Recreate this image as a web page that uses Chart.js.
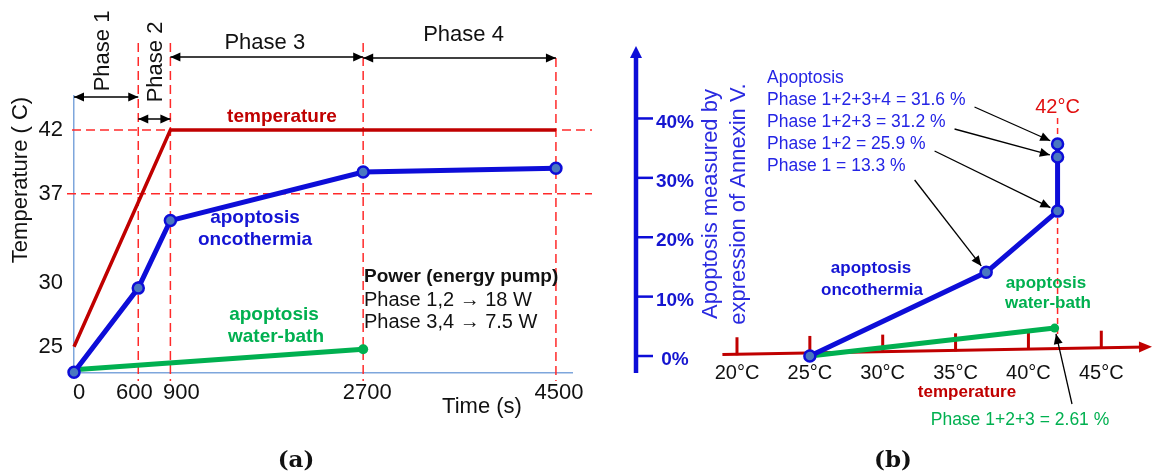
<!DOCTYPE html>
<html>
<head>
<meta charset="utf-8">
<script src="https://cdn.jsdelivr.net/npm/chart.js@4.4.1/dist/chart.umd.min.js"></script>
<style>
  html, body { margin: 0; padding: 0; background: #fff; }
  #wrap { position: relative; width: 1160px; height: 475px; overflow: hidden; }
  canvas { position: absolute; top: 0; }
  #chartA { left: 0; }
  #chartB { left: 600px; }
</style>
</head>
<body>
<div id="wrap">
  <canvas id="chartA" width="600" height="475"></canvas>
  <canvas id="chartB" width="560" height="475"></canvas>
</div>
<script>
// ---- (a) temperatura / apoptose x tempo ----
const timeTicks = [0, 600, 900, 2700, 4500];
const tempTicks = [25, 30, 37, 42];
const tempTime = [0, 900, 4500];
const tempValues = [25, 42, 42];
const oncoTime = [0, 600, 900, 2700, 4500];
const oncoValues = [23, 29.6, 34.9, 38.7, 39.0];
const bathTime = [0, 2700];
const bathValues = [23.2, 24.8];
const phaseBounds = [0, 600, 900, 2700, 4500];
const phaseNames = ['Phase 1', 'Phase 2', 'Phase 3', 'Phase 4'];

// ---- (b) apoptose x temperatura ----
const degTicks = [20, 25, 30, 35, 40, 45];
const pctTicks = [0, 10, 20, 30, 40];
const oncoDeg = [25, 37.1, 42, 42, 42];
const oncoPct = [0, 14.1, 24.4, 33.5, 35.7];
const bathDeg = [25, 41.8];
const bathPct = [0, 4.7];
const apoTitle = 'Apoptosis';
const apoLabels = ['Phase 1+2+3+4 = 31.6 %', 'Phase 1+2+3 = 31.2 %', 'Phase 1+2 = 25.9 %', 'Phase 1 = 13.3 %'];
const apoPoint = [4, 3, 2, 1]; // qual ponto cada rótulo aponta
const bathLabel = 'Phase 1+2+3 = 2.61 %';

const FONT = "'Liberation Sans', Arial, sans-serif";
const RED = '#c00000';
const DASH = '#ff2a2a';
const BLUE = '#0d0dd8';
const GREEN = '#00b050';
const AXIS_A = '#7ea6dc';

function txt(ctx, s, x, y, size, color, o = {}) {
  ctx.save();
  ctx.font = (o.bold ? 'bold ' : '') + size + 'px ' + (o.family || FONT);
  ctx.fillStyle = color;
  ctx.textAlign = o.align || 'center';
  ctx.textBaseline = 'middle';
  ctx.translate(x, y);
  if (o.rot) ctx.rotate(o.rot);
  ctx.fillText(s, 0, 0);
  ctx.restore();
}

function head(ctx, x1, y1, x2, y2, h, w) {
  const a = Math.atan2(y2 - y1, x2 - x1);
  ctx.beginPath();
  ctx.moveTo(x2, y2);
  ctx.lineTo(x2 - h * Math.cos(a) - w * Math.sin(a), y2 - h * Math.sin(a) + w * Math.cos(a));
  ctx.lineTo(x2 - h * Math.cos(a) + w * Math.sin(a), y2 - h * Math.sin(a) - w * Math.cos(a));
  ctx.closePath();
  ctx.fill();
}

function arrow(ctx, x1, y1, x2, y2, both, width) {
  ctx.save();
  ctx.strokeStyle = '#000';
  ctx.fillStyle = '#000';
  ctx.lineWidth = width || 1.4;
  ctx.beginPath();
  ctx.moveTo(x1, y1);
  ctx.lineTo(x2, y2);
  ctx.stroke();
  head(ctx, x1, y1, x2, y2, 10, 4.5);
  if (both) head(ctx, x2, y2, x1, y1, 10, 4.5);
  ctx.restore();
}

function dashed(ctx, x1, y1, x2, y2, color, dash) {
  ctx.save();
  ctx.strokeStyle = color;
  ctx.lineWidth = 1.5;
  ctx.setLineDash(dash);
  ctx.beginPath();
  ctx.moveTo(x1, y1);
  ctx.lineTo(x2, y2);
  ctx.stroke();
  ctx.restore();
}

const pts = (xs, ys) => xs.map((v, i) => ({ x: v, y: ys[i] }));

// ---------- painel (a) ----------
const xTickNudge = [5, -4, 11, 4, 3];
const dashTop = [43, 43, 43, 58];

const decoA = {
  id: 'decoA',
  beforeDatasetsDraw(chart) {
    const { ctx, scales: { x, y } } = chart;
    phaseBounds.slice(1).forEach((v, i) => {
      const px = x.getPixelForValue(v);
      dashed(ctx, px, dashTop[i], px, 381, DASH, [9, 5]);
    });
    dashed(ctx, 72, y.getPixelForValue(42), 592, y.getPixelForValue(42), DASH, [9, 5]);
    dashed(ctx, 67, y.getPixelForValue(37), 592, y.getPixelForValue(37), DASH, [9, 5]);
  },
  afterDraw(chart) {
    const { ctx, scales: { x, y } } = chart;
    // marcadores de fase
    const px = phaseBounds.map(v => x.getPixelForValue(v));
    const arrowY = [97, 119, 57, 58];
    for (let i = 0; i < 4; i++) arrow(ctx, px[i], arrowY[i], px[i + 1], arrowY[i], true, 1.5);
    txt(ctx, phaseNames[0], (px[0] + px[1]) / 2 - 3, 51, 22, '#111', { rot: -Math.PI / 2 });
    txt(ctx, phaseNames[1], (px[1] + px[2]) / 2 + 2, 62, 22, '#111', { rot: -Math.PI / 2 });
    txt(ctx, phaseNames[2], (px[2] + px[3]) / 2 - 2, 43, 22, '#111');
    txt(ctx, phaseNames[3], (px[3] + px[4]) / 2 + 4, 35, 22, '#111');

    // rótulos do eixo x
    timeTicks.forEach((v, i) => txt(ctx, String(v), x.getPixelForValue(v) + xTickNudge[i], 393, 22, '#111'));
    txt(ctx, 'Time (s)', 482, 407, 22, '#111');
    txt(ctx, 'Temperature ( C)', 21, 180, 22, '#111', { rot: -Math.PI / 2 });

    // legendas das curvas
    txt(ctx, 'temperature', 282, 117, 19, RED, { bold: true });
    txt(ctx, 'apoptosis', 255, 218, 19, '#1414d4', { bold: true });
    txt(ctx, 'oncothermia', 255, 240, 19, '#1414d4', { bold: true });
    txt(ctx, 'apoptosis', 274, 315, 19, GREEN, { bold: true });
    txt(ctx, 'water-bath', 276, 337, 19, GREEN, { bold: true });

    txt(ctx, 'Power (energy pump)', 364, 277, 19, '#111', { bold: true, align: 'left' });
    txt(ctx, 'Phase 1,2 \u2192 18 W', 364, 300, 20, '#111', { align: 'left' });
    txt(ctx, 'Phase 3,4 \u2192 7.5 W', 364, 322, 20, '#111', { align: 'left' });

    txt(ctx, '(a)', 296, 461, 23, '#111', { bold: true, family: "'DejaVu Serif', serif" });
  }
};

new Chart(document.getElementById('chartA'), {
  type: 'line',
  data: {
    datasets: [
      {
        label: 'apoptosis oncothermia',
        data: pts(oncoTime, oncoValues),
        borderColor: BLUE,
        borderWidth: 5,
        pointRadius: 5.5,
        pointBackgroundColor: '#4a78c0',
        pointBorderColor: BLUE,
        pointBorderWidth: 2.5,
        clip: false
      },
      {
        label: 'apoptosis water-bath',
        data: pts(bathTime, bathValues),
        borderColor: GREEN,
        borderWidth: 5,
        pointRadius: [0, 5],
        pointBackgroundColor: GREEN,
        pointBorderWidth: 0,
        clip: false
      },
      {
        label: 'temperature',
        data: pts(tempTime, tempValues),
        borderColor: RED,
        borderWidth: 3.5,
        pointRadius: 0,
        clip: false
      }
    ]
  },
  options: {
    responsive: false,
    animation: false,
    devicePixelRatio: 1,
    layout: { padding: { top: 96, right: 28, left: 0, bottom: 0 } },
    plugins: { legend: { display: false }, tooltip: { enabled: false } },
    scales: {
      x: {
        type: 'linear', min: 0, max: 4650,
        grid: { display: false, drawTicks: false },
        border: { display: true, color: AXIS_A, width: 1.5 },
        ticks: { display: false },
        afterBuildTicks: s => { s.ticks = timeTicks.map(v => ({ value: v })); },
        afterFit: s => { s.height = 102; }
      },
      y: {
        type: 'linear', min: 22.94, max: 44.67,
        grid: { display: false, drawTicks: false },
        border: { display: true, color: AXIS_A, width: 1.5 },
        ticks: { color: '#111', font: { family: FONT, size: 22 }, padding: 11, autoSkip: false },
        afterBuildTicks: s => { s.ticks = tempTicks.map(v => ({ value: v })); },
        afterFit: s => { s.width = 74; }
      }
    }
  },
  plugins: [decoA]
});

// ---------- painel (b) ----------
const decoB = {
  id: 'decoB',
  beforeDatasetsDraw(chart) {
    const { ctx, scales: { x, y }, chartArea: a } = chart;
    const y0 = y.getPixelForValue(0);
    const xL = x.getPixelForValue(19);
    const lineY = px => y0 - 1.5 - (px - xL) * 0.018;

    // eixo da temperatura (vermelho)
    ctx.save();
    ctx.strokeStyle = RED;
    ctx.fillStyle = RED;
    ctx.lineWidth = 3;
    ctx.beginPath();
    ctx.moveTo(xL, lineY(xL));
    ctx.lineTo(a.right - 6, lineY(a.right - 6));
    ctx.stroke();
    head(ctx, xL, lineY(xL), a.right, lineY(a.right), 13, 5.5);
    degTicks.forEach(v => {
      const px = x.getPixelForValue(v);
      ctx.beginPath();
      ctx.moveTo(px, lineY(px) + 1);
      ctx.lineTo(px, lineY(px) - 17);
      ctx.stroke();
      txt(ctx, v + '\u00B0C', px, y0 + 17, 20, '#111');
    });
    ctx.restore();
    txt(ctx, 'temperature', 367, 392, 17, RED, { bold: true });

    // 42 °C
    const x42 = x.getPixelForValue(42);
    dashed(ctx, x42, 118, x42, lineY(x42), DASH, [6, 4]);
    txt(ctx, '42\u00B0C', x42, 107, 20, '#e01010');

    // eixo da apoptose (azul)
    ctx.save();
    ctx.strokeStyle = BLUE;
    ctx.fillStyle = BLUE;
    ctx.lineWidth = 4.5;
    ctx.beginPath();
    ctx.moveTo(a.left, a.bottom);
    ctx.lineTo(a.left, a.top + 8);
    ctx.stroke();
    head(ctx, a.left, a.bottom, a.left, a.top, 12, 6);
    ctx.lineWidth = 2.5;
    pctTicks.forEach(v => {
      const py = y.getPixelForValue(v);
      ctx.beginPath();
      ctx.moveTo(a.left, py);
      ctx.lineTo(a.left + 17, py);
      ctx.stroke();
      txt(ctx, v + '%', a.left + 39, py + 4, 19, '#1515d0', { bold: true });
    });
    ctx.restore();
    txt(ctx, 'Apoptosis measured by', 111, 204, 22, '#2a2ae0', { rot: -Math.PI / 2 });
    txt(ctx, 'expression of Annexin V.', 139, 204, 22, '#2a2ae0', { rot: -Math.PI / 2 });
  },
  afterDraw(chart) {
    const { ctx, scales: { x, y } } = chart;
    // bloco de texto e setas
    txt(ctx, apoTitle, 167, 78, 17.5, '#2525e5', { align: 'left' });
    ctx.save();
    ctx.font = '17.5px ' + FONT;
    apoLabels.forEach((s, i) => {
      const ly = 100 + i * 22;
      txt(ctx, s, 167, ly, 17.5, '#2525e5', { align: 'left' });
      const sx = 167 + ctx.measureText(s).width + 9;
      const sy = ly + (i === 3 ? 14 : 7);
      const k = apoPoint[i];
      const tx = x.getPixelForValue(oncoDeg[k]);
      const ty = y.getPixelForValue(oncoPct[k]);
      const d = Math.hypot(tx - sx, ty - sy);
      arrow(ctx, sx, sy, tx - (tx - sx) / d * 8, ty - (ty - sy) / d * 8, false, 1.3);
    });
    ctx.restore();

    // seta da curva water-bath
    const gx = x.getPixelForValue(bathDeg[1]);
    const gy = y.getPixelForValue(bathPct[1]);
    const sx = 472, sy = 404;
    const d = Math.hypot(gx - sx, gy - sy);
    arrow(ctx, sx, sy, gx - (gx - sx) / d * 6, gy - (gy - sy) / d * 6, false, 1.3);
    txt(ctx, bathLabel, 420, 420, 17.5, GREEN);

    txt(ctx, 'apoptosis', 271, 268, 17, '#1414d4', { bold: true });
    txt(ctx, 'oncothermia', 272, 290, 17, '#1414d4', { bold: true });
    txt(ctx, 'apoptosis', 446, 283, 17, GREEN, { bold: true });
    txt(ctx, 'water-bath', 448, 303, 17, GREEN, { bold: true });

    txt(ctx, '(b)', 293, 461, 23, '#111', { bold: true, family: "'DejaVu Serif', serif" });
  }
};

new Chart(document.getElementById('chartB'), {
  type: 'line',
  data: {
    datasets: [
      {
        label: 'apoptosis oncothermia',
        data: pts(oncoDeg, oncoPct),
        borderColor: BLUE,
        borderWidth: 5,
        pointRadius: 5.5,
        pointBackgroundColor: '#4a78c0',
        pointBorderColor: BLUE,
        pointBorderWidth: 2.5,
        clip: false
      },
      {
        label: 'apoptosis water-bath',
        data: pts(bathDeg, bathPct),
        borderColor: GREEN,
        borderWidth: 5,
        pointRadius: [0, 4.5],
        pointBackgroundColor: GREEN,
        pointBorderWidth: 0,
        clip: false
      }
    ]
  },
  options: {
    responsive: false,
    animation: false,
    devicePixelRatio: 1,
    layout: { padding: { top: 46, right: 0, left: 36, bottom: 102 } },
    plugins: { legend: { display: false }, tooltip: { enabled: false } },
    scales: {
      x: { type: 'linear', display: false, min: 13.07, max: 48.48 },
      y: { type: 'linear', display: false, min: -2.86, max: 52.2 }
    }
  },
  plugins: [decoB]
});
</script>
</body>
</html>
